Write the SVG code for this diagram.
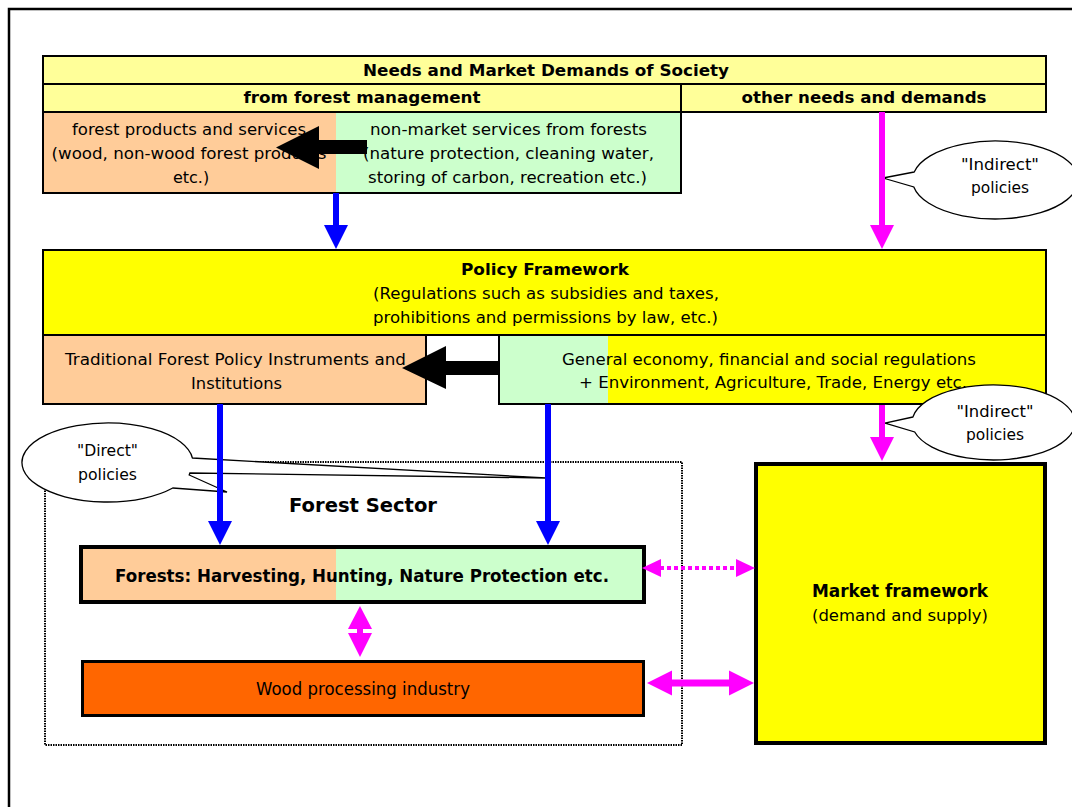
<svg xmlns="http://www.w3.org/2000/svg" width="1072" height="807" viewBox="0 0 1072 807">
<style>
.t{font-family:"DejaVu Sans","Liberation Sans",sans-serif;font-size:16px;fill:#000;text-anchor:middle}
.b{font-weight:bold}
.ln{stroke:#000;stroke-width:2}
.callout{fill:#fff;stroke:#000;stroke-width:1.3}
.blue{fill:#0000FF}
.mag{fill:#FF00FF}
.blk{fill:#000}
</style>
<rect width="1072" height="807" fill="#fff"/>
<rect x="9" y="9" width="1100" height="850" fill="none" stroke="#000" stroke-width="2.5"/>

<g id="needs">
  <rect x="43" y="56" width="1003" height="28" fill="#FFFF99" class="ln"/>
  <rect x="43" y="84" width="638" height="28" fill="#FFFF99" class="ln"/>
  <rect x="681" y="84" width="365" height="28" fill="#FFFF99" class="ln"/>
  <rect x="43" y="112" width="293" height="81" fill="#FFCC99"/>
  <rect x="336" y="112" width="345" height="81" fill="#CCFFCC"/>
  <rect x="43" y="112" width="638" height="81" fill="none" class="ln"/>
  <text class="t b" x="546" y="76" textLength="366" lengthAdjust="spacingAndGlyphs">Needs and Market Demands of Society</text>
  <text class="t b" x="362" y="103" textLength="237" lengthAdjust="spacingAndGlyphs">from forest management</text>
  <text class="t b" x="864" y="103" textLength="245" lengthAdjust="spacingAndGlyphs">other needs and demands</text>
  <text class="t" x="189" y="135" textLength="234" lengthAdjust="spacingAndGlyphs">forest products and services</text>
  <text class="t" x="189" y="159" textLength="275" lengthAdjust="spacingAndGlyphs">(wood, non-wood forest products</text>
  <text class="t" x="191" y="183">etc.)</text>
  <text class="t" x="508.5" y="135" textLength="277" lengthAdjust="spacingAndGlyphs">non-market services from forests</text>
  <text class="t" x="508.5" y="159" textLength="291" lengthAdjust="spacingAndGlyphs">(nature protection, cleaning water,</text>
  <text class="t" x="507.5" y="183" textLength="279" lengthAdjust="spacingAndGlyphs">storing of carbon, recreation etc.)</text>
</g>

<g id="policy-framework">
  <rect x="43" y="250" width="1003" height="85" fill="#FFFF00" class="ln"/>
  <text class="t b" x="545" y="275" textLength="168" lengthAdjust="spacingAndGlyphs">Policy Framework</text>
  <text class="t" x="546" y="299" textLength="346" lengthAdjust="spacingAndGlyphs">(Regulations such as subsidies and taxes,</text>
  <text class="t" x="545.5" y="323" textLength="345" lengthAdjust="spacingAndGlyphs">prohibitions and permissions by law, etc.)</text>
</g>

<g id="traditional">
  <rect x="43" y="335" width="383" height="69" fill="#FFCC99" class="ln"/>
  <text class="t" x="235.5" y="365" textLength="341" lengthAdjust="spacingAndGlyphs">Traditional Forest Policy Instruments and</text>
  <text class="t" x="236.5" y="389" textLength="91" lengthAdjust="spacingAndGlyphs">Institutions</text>
</g>

<g id="general">
  <rect x="499" y="335" width="109" height="69" fill="#CCFFCC"/>
  <rect x="608" y="335" width="438" height="69" fill="#FFFF00"/>
  <rect x="499" y="335" width="547" height="69" fill="none" class="ln"/>
  <text class="t" x="769" y="365" textLength="414" lengthAdjust="spacingAndGlyphs">General economy, financial and social regulations</text>
  <text class="t" x="773" y="388" textLength="388" lengthAdjust="spacingAndGlyphs">+ Environment, Agriculture, Trade, Energy etc.</text>
</g>

<g id="forest-sector">
  <rect x="45" y="462" width="637" height="283" fill="none" stroke="#000" stroke-width="2" stroke-dasharray="1.5,1"/>
  <text class="t b" x="363" y="512" style="font-size:20px" textLength="148" lengthAdjust="spacingAndGlyphs">Forest Sector</text>
</g>

<g id="forests">
  <rect x="81" y="547" width="255" height="55" fill="#FFCC99"/>
  <rect x="336" y="547" width="308" height="55" fill="#CCFFCC"/>
  <rect x="81" y="547" width="563" height="55" fill="none" stroke="#000" stroke-width="4"/>
  <text class="t b" x="362" y="582" style="font-size:18px" textLength="494" lengthAdjust="spacingAndGlyphs">Forests: Harvesting, Hunting, Nature Protection etc.</text>
</g>

<g id="wood">
  <rect x="82.5" y="661.5" width="561" height="54" fill="#FF6600" stroke="#000" stroke-width="3"/>
  <text class="t" x="363" y="695" style="font-size:18px" textLength="214" lengthAdjust="spacingAndGlyphs">Wood processing industry</text>
</g>

<g id="market">
  <rect x="756" y="464" width="289" height="279" fill="#FFFF00" stroke="#000" stroke-width="4"/>
  <text class="t b" x="900" y="597" style="font-size:17px" textLength="176" lengthAdjust="spacingAndGlyphs">Market framework</text>
  <text class="t" x="900" y="621" textLength="176" lengthAdjust="spacingAndGlyphs">(demand and supply)</text>
</g>

<g id="callout-indirect-1">
  <path class="callout" d="M914.2,172 L883,178 L913.8,187 A83,39 0 1 0 914.2,172 Z"/>
  <text class="t" x="1000" y="170" textLength="78" lengthAdjust="spacingAndGlyphs">"Indirect"</text>
  <text class="t" x="1000" y="193" textLength="58" lengthAdjust="spacingAndGlyphs">policies</text>
</g>

<g id="callout-indirect-2">
  <path class="callout" d="M912.9,417 L885,423 L914.7,432 A81.5,37.5 0 1 0 912.9,417 Z"/>
  <text class="t" x="995" y="417" textLength="77" lengthAdjust="spacingAndGlyphs">"Indirect"</text>
  <text class="t" x="995" y="440" textLength="58" lengthAdjust="spacingAndGlyphs">policies</text>
</g>

<g id="callout-direct">
  <path class="callout" d="M192.4,458 L546,478 L189.9,473 L189.2,475 L227,492 L172.8,488 A85.5,39.5 0 1 1 192.4,458 Z"/>
  <text class="t" x="107.5" y="456" textLength="61" lengthAdjust="spacingAndGlyphs">"Direct"</text>
  <text class="t" x="107.5" y="480" textLength="59" lengthAdjust="spacingAndGlyphs">policies</text>
</g>

<g id="connectors">
  <rect class="blue" x="333" y="193" width="6" height="33"/>
  <polygon class="blue" points="324,225 348,225 336,249"/>
  <rect class="mag" x="879" y="112" width="6" height="114"/>
  <polygon class="mag" points="870,225 894,225 882,249"/>
  <polygon class="blk" points="367,140 319,140 319,126 276,147.5 319,169 319,154 367,154"/>
  <polygon class="blk" points="499,361 446,361 446,346 402,368 446,389 446,375 499,375"/>
  <rect class="mag" x="879" y="405" width="6" height="33"/>
  <polygon class="mag" points="870,437 894,437 882,461"/>
  <rect class="blue" x="217" y="404" width="6" height="118"/>
  <polygon class="blue" points="208,521 232,521 220,545"/>
  <rect class="blue" x="545" y="404" width="6" height="118"/>
  <polygon class="blue" points="536,521 560,521 548,545"/>
  <line x1="660" y1="568" x2="738" y2="568" stroke="#FF00FF" stroke-width="4" stroke-dasharray="4,3"/>
  <polygon class="mag" points="642,568 661,559 661,577"/>
  <polygon class="mag" points="755,568 736,559 736,577"/>
  <polygon class="mag" points="360,606 348,629 372,629"/>
  <rect class="mag" x="357" y="628" width="6" height="6"/>
  <polygon class="mag" points="360,657 348,633 372,633"/>
  <rect class="mag" x="670" y="679.5" width="60" height="7"/>
  <polygon class="mag" points="647,683 672,670.5 672,695.5"/>
  <polygon class="mag" points="754,683 729,670.5 729,695.5"/>
</g>
</svg>
